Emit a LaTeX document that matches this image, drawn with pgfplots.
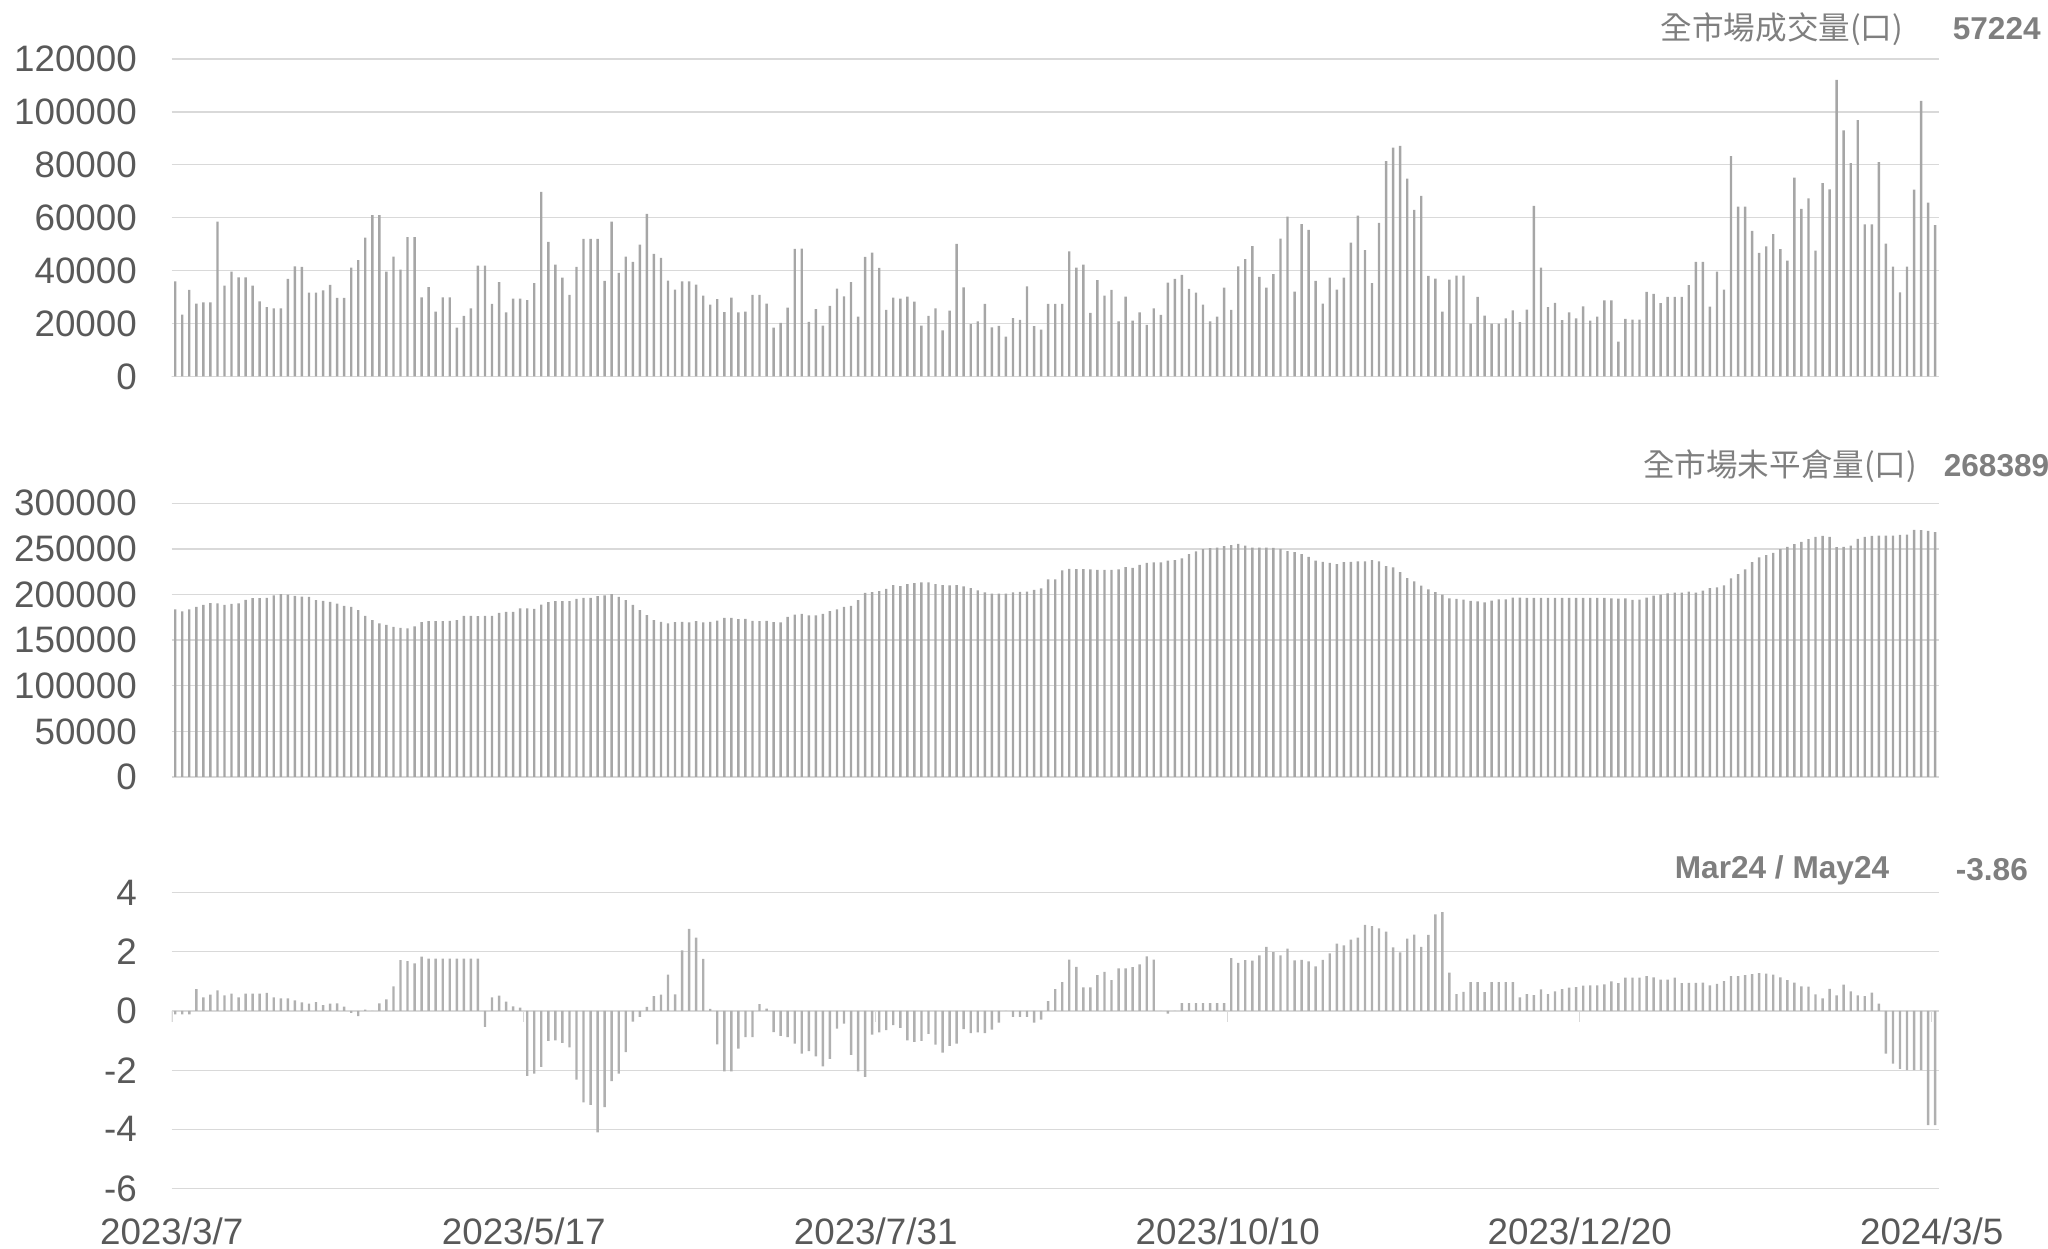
\documentclass[border=0pt]{standalone}
\usepackage{fontspec}
\setmainfont{Liberation Sans}
\newfontfamily\cjk{Noto Sans CJK TC}
\usepackage{pgfplots}
\usepackage{pgfplotstable}
\pgfplotsset{compat=1.18}
\definecolor{barc}{HTML}{A6A6A6}
\definecolor{barc3}{HTML}{B0B0B0}
\definecolor{gridc}{HTML}{D9D9D9}
\definecolor{labc}{HTML}{595959}
\definecolor{titc}{HTML}{7F7F7F}

\pgfplotstableread[row sep=\\]{v\\
35900\\ 23400\\ 32700\\ 27500\\ 28000\\ 28000\\ 58500\\ 34300\\ 39600\\ 37500\\
37500\\ 34300\\ 28400\\ 26200\\ 25700\\ 25700\\ 36900\\ 41600\\ 41400\\ 31700\\
31700\\ 32500\\ 34600\\ 29700\\ 29700\\ 41100\\ 44000\\ 52500\\ 61000\\ 61000\\
39600\\ 45300\\ 40400\\ 52700\\ 52700\\ 29900\\ 33800\\ 24500\\ 29900\\ 29900\\
18500\\ 22900\\ 25700\\ 41900\\ 41900\\ 27400\\ 35700\\ 24200\\ 29400\\ 29400\\
28900\\ 35300\\ 69800\\ 50900\\ 42300\\ 37400\\ 30800\\ 41400\\ 52000\\ 52000\\
52000\\ 36100\\ 58500\\ 39200\\ 45300\\ 43300\\ 49800\\ 61500\\ 46300\\ 44800\\
36200\\ 32800\\ 35900\\ 35900\\ 34700\\ 30600\\ 27200\\ 29200\\ 24300\\ 29800\\
24200\\ 24500\\ 30800\\ 30800\\ 27500\\ 18500\\ 20300\\ 26000\\ 48200\\ 48300\\
20600\\ 25500\\ 19200\\ 26700\\ 33200\\ 30300\\ 35700\\ 22600\\ 45200\\ 46800\\
41000\\ 25200\\ 29800\\ 29400\\ 30200\\ 28300\\ 19200\\ 22900\\ 25700\\ 17400\\
24900\\ 50100\\ 33700\\ 19800\\ 20800\\ 27400\\ 18600\\ 19100\\ 15100\\ 22100\\
21400\\ 34100\\ 19000\\ 17700\\ 27400\\ 27400\\ 27400\\ 47300\\ 41100\\ 42300\\
24000\\ 36400\\ 30600\\ 32700\\ 20800\\ 30200\\ 21100\\ 24200\\ 19500\\ 25700\\
23300\\ 35500\\ 36900\\ 38400\\ 33100\\ 31700\\ 27200\\ 20800\\ 22600\\ 33600\\
25200\\ 41600\\ 44400\\ 49300\\ 37600\\ 33600\\ 38700\\ 52100\\ 60400\\ 32100\\
57600\\ 55400\\ 36100\\ 27500\\ 37400\\ 32800\\ 37400\\ 50600\\ 60800\\ 47800\\
35300\\ 58100\\ 81400\\ 86500\\ 87200\\ 74800\\ 63000\\ 68300\\ 38000\\ 37000\\
24500\\ 36600\\ 38100\\ 38100\\ 20000\\ 30100\\ 23000\\ 20000\\ 20000\\ 22000\\
25000\\ 20500\\ 25300\\ 64500\\ 41100\\ 26200\\ 27800\\ 21300\\ 24200\\ 22000\\
26500\\ 21100\\ 22600\\ 28800\\ 28800\\ 13200\\ 21800\\ 21500\\ 21500\\ 32000\\
31200\\ 27700\\ 30100\\ 30100\\ 30100\\ 34500\\ 43300\\ 43300\\ 26400\\ 39600\\
32800\\ 83300\\ 64200\\ 64200\\ 55000\\ 46700\\ 49200\\ 53800\\ 48100\\ 43800\\
75200\\ 63300\\ 67300\\ 47600\\ 73100\\ 70700\\ 112100\\ 93000\\ 80600\\ 96900\\
57500\\ 57500\\ 81000\\ 50200\\ 41500\\ 31800\\ 41500\\ 70600\\ 104200\\ 65700\\
57224\\
}\tVol

\pgfplotstableread[row sep=\\]{v\\
183600\\ 181400\\ 183600\\ 186500\\ 188700\\ 190500\\ 190200\\ 188700\\ 189800\\ 190200\\
194200\\ 196000\\ 196000\\ 196400\\ 199000\\ 200400\\ 200000\\ 198600\\ 197800\\ 197500\\
193800\\ 193000\\ 192000\\ 190000\\ 187600\\ 186500\\ 182900\\ 176700\\ 171900\\ 168300\\
166800\\ 164600\\ 163500\\ 163000\\ 165000\\ 169700\\ 170800\\ 170800\\ 170800\\ 171000\\
172000\\ 176700\\ 176700\\ 176300\\ 176700\\ 176700\\ 180000\\ 181000\\ 181000\\ 184700\\
184700\\ 184300\\ 189000\\ 191600\\ 192700\\ 192700\\ 192700\\ 195300\\ 196400\\ 196400\\
198200\\ 199000\\ 200400\\ 197500\\ 193800\\ 188700\\ 182900\\ 177400\\ 172000\\ 170000\\
168300\\ 169700\\ 170000\\ 169400\\ 170800\\ 169400\\ 170000\\ 171500\\ 174500\\ 174500\\
173000\\ 173400\\ 171200\\ 170800\\ 171200\\ 169700\\ 169400\\ 175600\\ 178000\\ 178900\\
177000\\ 177000\\ 178900\\ 181800\\ 183600\\ 186500\\ 187600\\ 193800\\ 201800\\ 202600\\
203700\\ 206200\\ 210200\\ 209100\\ 211300\\ 212400\\ 213200\\ 213200\\ 211300\\ 210200\\
209900\\ 210200\\ 208800\\ 207000\\ 204400\\ 202200\\ 201100\\ 201100\\ 201100\\ 202200\\
203000\\ 203100\\ 205000\\ 206800\\ 216600\\ 216600\\ 226400\\ 228200\\ 227900\\ 227900\\
227500\\ 227100\\ 227100\\ 227100\\ 227500\\ 230000\\ 229300\\ 232600\\ 234800\\ 235100\\
235100\\ 237000\\ 237700\\ 239500\\ 244200\\ 247200\\ 249700\\ 250800\\ 251500\\ 253000\\
254100\\ 255500\\ 253700\\ 251500\\ 251500\\ 251500\\ 251200\\ 250000\\ 247500\\ 246400\\
244200\\ 241300\\ 237000\\ 235900\\ 234800\\ 233300\\ 235500\\ 235900\\ 236200\\ 236200\\
237700\\ 236200\\ 231100\\ 229700\\ 224600\\ 218000\\ 214400\\ 209700\\ 205700\\ 202700\\
199800\\ 195800\\ 195100\\ 194400\\ 192900\\ 192600\\ 191500\\ 193300\\ 194700\\ 194700\\
196600\\ 196600\\ 196200\\ 196200\\ 196200\\ 196200\\ 196200\\ 196200\\ 196200\\ 196200\\
196200\\ 196200\\ 196200\\ 196200\\ 195800\\ 195500\\ 195800\\ 194000\\ 194400\\ 196600\\
198700\\ 199800\\ 201300\\ 202000\\ 202000\\ 203100\\ 202000\\ 204200\\ 207100\\ 207800\\
210000\\ 217700\\ 222400\\ 227500\\ 235500\\ 240600\\ 243200\\ 245700\\ 249700\\ 252300\\
255200\\ 257700\\ 260600\\ 263200\\ 264300\\ 263200\\ 251900\\ 252300\\ 253700\\ 261000\\
263200\\ 264300\\ 264600\\ 264600\\ 264600\\ 265400\\ 265700\\ 270800\\ 270500\\ 269700\\
268389\\
}\tOI

\pgfplotstableread[row sep=\\]{v\\
-0.11\\ -0.11\\ -0.11\\ 0.74\\ 0.46\\ 0.55\\ 0.70\\ 0.53\\ 0.59\\ 0.46\\
0.59\\ 0.59\\ 0.59\\ 0.61\\ 0.46\\ 0.43\\ 0.43\\ 0.36\\ 0.29\\ 0.25\\
0.30\\ 0.20\\ 0.25\\ 0.26\\ 0.15\\ -0.06\\ -0.17\\ 0.05\\ 0\\ 0.26\\
0.39\\ 0.83\\ 1.72\\ 1.69\\ 1.61\\ 1.84\\ 1.77\\ 1.77\\ 1.77\\ 1.77\\
1.77\\ 1.77\\ 1.77\\ 1.77\\ -0.54\\ 0.46\\ 0.52\\ 0.32\\ 0.16\\ 0.11\\
-2.19\\ -2.12\\ -1.89\\ -1.01\\ -0.99\\ -1.08\\ -1.23\\ -2.32\\ -3.09\\ -3.17\\
-4.10\\ -3.25\\ -2.37\\ -2.12\\ -1.39\\ -0.36\\ -0.20\\ 0.14\\ 0.50\\ 0.55\\
1.23\\ 0.56\\ 2.05\\ 2.78\\ 2.48\\ 1.76\\ 0.07\\ -1.13\\ -2.04\\ -2.04\\
-1.27\\ -0.88\\ -0.88\\ 0.23\\ 0.08\\ -0.71\\ -0.84\\ -0.88\\ -1.10\\ -1.44\\
-1.36\\ -1.53\\ -1.87\\ -1.62\\ -0.60\\ -0.43\\ -1.48\\ -2.04\\ -2.23\\ -0.80\\
-0.72\\ -0.65\\ -0.48\\ -0.57\\ -0.99\\ -1.04\\ -1.01\\ -0.77\\ -1.14\\ -1.41\\
-1.18\\ -1.10\\ -0.61\\ -0.75\\ -0.72\\ -0.75\\ -0.63\\ -0.39\\ 0\\ -0.20\\
-0.20\\ -0.20\\ -0.39\\ -0.29\\ 0.33\\ 0.74\\ 0.98\\ 1.74\\ 1.49\\ 0.80\\
0.80\\ 1.21\\ 1.32\\ 1.04\\ 1.44\\ 1.44\\ 1.48\\ 1.58\\ 1.85\\ 1.74\\
0\\ -0.09\\ 0\\ 0.27\\ 0.27\\ 0.27\\ 0.27\\ 0.27\\ 0.27\\ 0.27\\
1.79\\ 1.63\\ 1.72\\ 1.70\\ 1.88\\ 2.17\\ 1.99\\ 1.88\\ 2.11\\ 1.71\\
1.73\\ 1.68\\ 1.51\\ 1.73\\ 1.95\\ 2.28\\ 2.22\\ 2.41\\ 2.48\\ 2.91\\
2.87\\ 2.79\\ 2.68\\ 2.15\\ 1.98\\ 2.45\\ 2.58\\ 2.17\\ 2.57\\ 3.27\\
3.34\\ 1.30\\ 0.57\\ 0.65\\ 0.98\\ 0.98\\ 0.64\\ 0.98\\ 0.98\\ 0.98\\
0.98\\ 0.46\\ 0.57\\ 0.54\\ 0.73\\ 0.57\\ 0.66\\ 0.74\\ 0.79\\ 0.81\\
0.86\\ 0.87\\ 0.87\\ 0.90\\ 1.00\\ 0.94\\ 1.13\\ 1.13\\ 1.13\\ 1.18\\
1.14\\ 1.06\\ 1.06\\ 1.13\\ 0.94\\ 0.95\\ 0.95\\ 0.96\\ 0.87\\ 0.92\\
1.01\\ 1.18\\ 1.18\\ 1.21\\ 1.25\\ 1.28\\ 1.26\\ 1.23\\ 1.14\\ 1.04\\
0.96\\ 0.83\\ 0.82\\ 0.56\\ 0.43\\ 0.75\\ 0.53\\ 0.89\\ 0.66\\ 0.53\\
0.50\\ 0.62\\ 0.25\\ -1.44\\ -1.78\\ -1.96\\ -2.00\\ -2.00\\ -2.00\\ -3.86\\
-3.86\\
}\tSpr

\pgfplotsset{
  panel/.style={
    scale only axis, width=441.75pt, anchor=south west,
    xmin=-0.5, xmax=250.5,
    scaled y ticks=false, scaled x ticks=false,
    axis line style={draw=none},
    tick style={draw=none},
    ymajorgrids, grid style={gridc, line width=0.33pt},
    yticklabel style={font=\fontsize{9.2}{11}\selectfont, text=labc, anchor=east, inner sep=0pt, xshift=-8.5pt},
  },
}

\begin{document}
\begin{tikzpicture}
\useasboundingbox (0,0) rectangle (512pt,312.25pt);

% Panel 1: volume
\begin{axis}[panel, at={(42.925pt,218.125pt)}, height=79.375pt,
  ymin=0, ymax=120000, xtick=\empty,
  ytick={0,20000,40000,60000,80000,100000,120000},
  yticklabels={0,20000,40000,60000,80000,100000,120000}]
\addplot[ybar, bar width=0.6pt, fill=barc, draw=none] table[x expr=\coordindex, y=v] {\tVol};
\draw[gridc, line width=0.4pt] (axis cs:-0.5,0) -- ++(0pt,-2pt);
\draw[gridc, line width=0.4pt] (axis cs:49.5,0) -- ++(0pt,-2pt);
\draw[gridc, line width=0.4pt] (axis cs:99.5,0) -- ++(0pt,-2pt);
\draw[gridc, line width=0.4pt] (axis cs:149.5,0) -- ++(0pt,-2pt);
\draw[gridc, line width=0.4pt] (axis cs:199.5,0) -- ++(0pt,-2pt);
\draw[gridc, line width=0.4pt] (axis cs:249.5,0) -- ++(0pt,-2pt);
\end{axis}

% Panel 2: open interest
\begin{axis}[panel, at={(42.925pt,118pt)}, height=68.425pt,
  ymin=0, ymax=300000, xtick=\empty,
  ytick={0,50000,100000,150000,200000,250000,300000},
  yticklabels={0,50000,100000,150000,200000,250000,300000}]
\addplot[ybar, bar width=0.6pt, fill=barc, draw=none] table[x expr=\coordindex, y=v] {\tOI};
\draw[gridc, line width=0.4pt] (axis cs:-0.5,0) -- ++(0pt,-2pt);
\draw[gridc, line width=0.4pt] (axis cs:49.5,0) -- ++(0pt,-2pt);
\draw[gridc, line width=0.4pt] (axis cs:99.5,0) -- ++(0pt,-2pt);
\draw[gridc, line width=0.4pt] (axis cs:149.5,0) -- ++(0pt,-2pt);
\draw[gridc, line width=0.4pt] (axis cs:199.5,0) -- ++(0pt,-2pt);
\draw[gridc, line width=0.4pt] (axis cs:249.5,0) -- ++(0pt,-2pt);
\end{axis}

% Panel 3: spread
\begin{axis}[panel, at={(42.925pt,15.125pt)}, height=73.95pt,
  ymin=-6, ymax=4,
  ytick={-6,-4,-2,0,2,4},
  yticklabels={-6,-4,-2,0,2,4},
  xtick={-0.5,49.5,99.5,149.5,199.5,249.5},
  xticklabels={2023/3/7,2023/5/17,2023/7/31,2023/10/10,2023/12/20,2024/3/5},
  xticklabel style={font=\fontsize{9.2}{11}\selectfont, text=labc, anchor=north, inner sep=0pt, yshift=-7.1pt}]
\addplot[ybar, bar width=0.6pt, fill=barc3, draw=none] table[x expr=\coordindex, y=v] {\tSpr};
\draw[gridc, line width=0.4pt] (axis cs:-0.5,0) -- ++(0pt,-2.75pt);
\draw[gridc, line width=0.4pt] (axis cs:49.5,0) -- ++(0pt,-2.75pt);
\draw[gridc, line width=0.4pt] (axis cs:99.5,0) -- ++(0pt,-2.75pt);
\draw[gridc, line width=0.4pt] (axis cs:149.5,0) -- ++(0pt,-2.75pt);
\draw[gridc, line width=0.4pt] (axis cs:199.5,0) -- ++(0pt,-2.75pt);
\draw[gridc, line width=0.4pt] (axis cs:249.5,0) -- ++(0pt,-2.75pt);
\end{axis}

% Titles and last values
\node[anchor=east, inner sep=0pt, text=titc, font=\cjk\fontsize{7.9}{9}\selectfont] at (476pt,305pt) {全市場成交量(口)};
\node[anchor=west, inner sep=0pt, text=titc, font=\bfseries\fontsize{7.9}{9}\selectfont] at (488pt,305pt) {57224};
\node[anchor=east, inner sep=0pt, text=titc, font=\cjk\fontsize{7.9}{9}\selectfont] at (479.5pt,195.75pt) {全市場未平倉量(口)};
\node[anchor=west, inner sep=0pt, text=titc, font=\bfseries\fontsize{7.9}{9}\selectfont] at (485.75pt,195.75pt) {268389};
\node[anchor=east, inner sep=0pt, text=titc, font=\bfseries\fontsize{7.9}{9}\selectfont] at (472.5pt,94.75pt) {Mar24 / May24};
\node[anchor=west, inner sep=0pt, text=titc, font=\bfseries\fontsize{7.9}{9}\selectfont] at (488.75pt,94.75pt) {-3.86};
\end{tikzpicture}
\end{document}
